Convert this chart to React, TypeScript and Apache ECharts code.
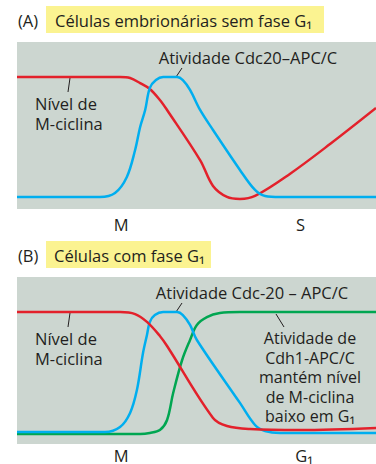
import React, { useEffect, useRef } from "react";
import * as echarts from "echarts";

// Panel A (embryonic cells without G1): time 0-100, level 0-100
const redA: [number, number][] = [
  [0, 79.0], [28.7, 79.0], [31.5, 78.4], [34.3, 75.4], [37.0, 71.9], [39.8, 65.3], [41.8, 59.3],
  [51.0, 29.3], [54.6, 13.8], [58.5, 7.2], [62.1, 6.0], [66.3, 7.8], [76.0, 21.0], [87.2, 38.9], [100, 60.5],
];
const blueA: [number, number][] = [
  [0, 7.2], [23.1, 7.2], [27.3, 9.6], [30.6, 19.2], [32.9, 35.3], [34.3, 49.1], [35.7, 59.3],
  [37.0, 72.5], [38.7, 77.2], [40.7, 79.0], [44.6, 79.0], [46.2, 77.2], [48.2, 71.3], [51.0, 59.3],
  [54.6, 47.3], [62.1, 23.4], [66.3, 11.4], [69.1, 7.8], [73.3, 7.2], [100, 7.2],
];
// Panel B (cells with G1)
const redB: [number, number][] = [
  [0, 79.0], [28.7, 79.0], [32.9, 77.8], [36.2, 73.1], [39.8, 64.7], [41.8, 58.7],
  [54.6, 15.6], [58.5, 10.8], [64.9, 9.0], [78.8, 8.4], [100, 9.6],
];
const blueB: [number, number][] = [
  [0, 7.2], [24.5, 7.2], [28.7, 10.2], [31.5, 18.6], [33.4, 32.3], [35.1, 54.5], [36.2, 65.3],
  [37.0, 73.1], [38.4, 77.2], [40.7, 79.0], [44.6, 79.0], [46.2, 77.2], [48.2, 71.3], [50.1, 62.3],
  [62.1, 24.6], [66.3, 11.4], [69.1, 7.8], [73.3, 6.6], [100, 6.6],
];
const greenB: [number, number][] = [
  [0, 6.0], [34.3, 6.0], [37.0, 6.6], [39.8, 8.4], [41.8, 14.4], [43.5, 30.5], [46.0, 50.3],
  [48.2, 62.3], [50.1, 71.3], [52.9, 76.0], [56.5, 78.4], [62.1, 79.0], [100, 79.0],
];

const tickValuesA = [29, 79];
const tickLabelsA = ["M", "S"];
const tickValuesB = [29, 80];
const tickLabelsB = ["M", "G₁"];

const FONT = "Open Sans";
const TXT = "#231f20";
const RED = "#e3212b";
const BLUE = "#00aeef";
const GREEN = "#00a651";
const BG = "#ccd6d0";
const YEL = "#fbf391";

export default function App() {
  const ref = useRef<HTMLDivElement>(null);
  useEffect(() => {
    if (!ref.current) return;
    const chart = echarts.init(ref.current, null, { renderer: "svg" });
    const xAxisBase = (vals: number[], labels: string[], gridIndex: number, margin: number) => ({
      type: "value",
      gridIndex,
      min: 0,
      max: 100,
      axisLine: { show: false },
      axisTick: { show: false },
      splitLine: { show: false },
      axisLabel: {
        customValues: vals,
        formatter: (v: number) => labels[vals.indexOf(v)] ?? "",
        color: TXT,
        fontFamily: FONT,
        fontSize: 16.5,
        lineHeight: 17,
        margin,
      },
    });
    const yAxisBase = (gridIndex: number) => ({
      type: "value",
      gridIndex,
      min: 0,
      max: 100,
      show: false,
    });
    const line = (data: [number, number][], color: string, idx: number) => ({
      type: "line",
      xAxisIndex: idx,
      yAxisIndex: idx,
      data,
      smooth: 0.35,
      symbol: "none",
      lineStyle: { color, width: 2.5 },
    });
    const txt = (x: number, y: number, text: string, align: string = "left", size = 16.5) => ({
      type: "text",
      x,
      y,
      style: {
        text,
        fill: TXT,
        font: `${size}px "${FONT}"`,
        textAlign: align,
        textVerticalAlign: "middle",
      },
    });
    const ln = (x1: number, y1: number, x2: number, y2: number) => ({
      type: "line",
      shape: { x1, y1, x2, y2 },
      style: { stroke: TXT, lineWidth: 1 },
    });
    const noteLines = ["Atividade de", "Cdh1-APC/C", "mantém nível", "de M-ciclina", "baixo em G₁"];
    chart.setOption({
      animation: false,
      grid: [
        { left: 17, right: 0, top: 42, height: 167, show: true, backgroundColor: BG, borderWidth: 0 },
        { left: 17, right: 0, top: 277, height: 167, show: true, backgroundColor: BG, borderWidth: 0 },
      ],
      xAxis: [xAxisBase(tickValuesA, tickLabelsA, 0, 7), xAxisBase(tickValuesB, tickLabelsB, 1, 3)],
      yAxis: [yAxisBase(0), yAxisBase(1)],
      series: [
        line(redA, RED, 0),
        line(blueA, BLUE, 0),
        line(greenB, GREEN, 1),
        line(blueB, BLUE, 1),
        line(redB, RED, 1),
      ],
      graphic: [
        { type: "rect", shape: { x: 46, y: 6, width: 278, height: 27 }, style: { fill: YEL } },
        { type: "rect", shape: { x: 46, y: 241, width: 165, height: 27 }, style: { fill: YEL } },
        txt(18, 20, "(A)"),
        txt(55, 20, "Células embrionárias sem fase G₁"),
        txt(18, 255, "(B)"),
        txt(54, 255, "Células com fase G₁"),
        txt(248, 57, "Atividade Cdc20–APC/C", "center"),
        txt(35, 103, "Nível de"),
        txt(35, 123, "M-ciclina"),
        ln(182, 68, 176, 77),
        ln(70, 78, 68, 92),
        txt(252, 292, "Atividade Cdc-20 – APC/C", "center"),
        txt(35, 338, "Nível de"),
        txt(35, 358, "M-ciclina"),
        ln(182, 303, 176, 312),
        ln(70, 313, 68, 327),
        ...noteLines.map((s, i) => txt(310, 338 + i * 19.5, s, "center", 16)),
        ln(276, 314, 284, 327),
      ],
    });
    return () => chart.dispose();
  }, []);
  return (
    <div
      ref={ref}
      style={{ position: "fixed", left: 0, top: 0, width: 376, height: 464, background: "#fff" }}
    />
  );
}
